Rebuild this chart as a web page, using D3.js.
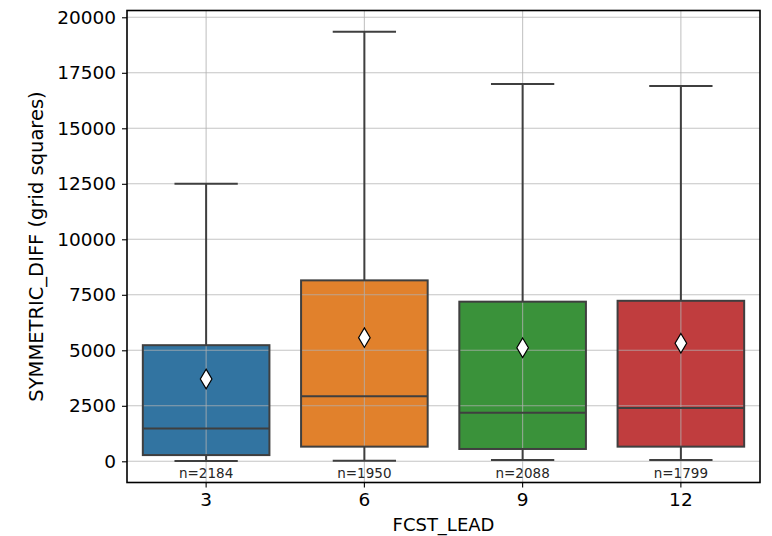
<!DOCTYPE html>
<html>
<head>
<meta charset="utf-8">
<script src="https://cdn.jsdelivr.net/npm/d3@7/dist/d3.min.js"></script>
<style>
  html, body { margin: 0; padding: 0; background: #fff; }
  svg { display: block; font-family: "DejaVu Sans", sans-serif; }
</style>
</head>
<body>
<svg id="chart" width="772" height="536"></svg>
<script>
// Forecast lead times and per-lead box statistics
const leads = ["3", "6", "9", "12"];
const whiskerLow = [10, 25, 55, 55];
const q1 = [280, 660, 555, 660];
const median = [1480, 2930, 2190, 2400];
const q3 = [5230, 8150, 7190, 7230];
const whiskerHigh = [12500, 19350, 17000, 16900];
const means = [3710, 5570, 5115, 5315];
const counts = [2184, 1950, 2088, 1799];
const colors = ["#3274a1", "#e1812c", "#3a923a", "#c03d3e"];
const yTicks = [0, 2500, 5000, 7500, 10000, 12500, 15000, 17500, 20000];

const margin = { left: 127, right: 12, top: 10.5, bottom: 53.5 };
const W = 772, H = 536;
const svg = d3.select("#chart");
const plotW = W - margin.left - margin.right;
const plotH = H - margin.top - margin.bottom;

const x = d3.scaleBand().domain(leads).range([margin.left, margin.left + plotW]).paddingInner(0).paddingOuter(0);
const y = d3.scaleLinear().domain([-955, 20306]).range([margin.top + plotH, margin.top]);

const boxW = x.bandwidth() * 0.8;
const lineCol = "#3f3f3f";
const cxOf = k => x(k) + x.bandwidth() / 2;

const data = leads.map((k, i) => ({
  k, lo: whiskerLow[i], q1: q1[i], med: median[i], q3: q3[i], hi: whiskerHigh[i],
  mean: means[i], n: counts[i], color: colors[i]
}));

// box fills
const fills = svg.append("g");
data.forEach(d => {
  fills.append("rect").attr("x", cxOf(d.k) - boxW / 2).attr("width", boxW)
    .attr("y", y(d.q3)).attr("height", y(d.q1) - y(d.q3))
    .attr("fill", d.color);
});

// grid over the fills
const grid = svg.append("g");
yTicks.forEach(t => {
  grid.append("line").attr("x1", margin.left).attr("x2", margin.left + plotW)
    .attr("y1", y(t)).attr("y2", y(t)).attr("stroke", "#b0b0b0").attr("stroke-opacity", 0.75).attr("stroke-width", 1.1);
});
leads.forEach(k => {
  grid.append("line").attr("x1", cxOf(k)).attr("x2", cxOf(k)).attr("y1", margin.top).attr("y2", margin.top + plotH)
    .attr("stroke", "#b0b0b0").attr("stroke-opacity", 0.75).attr("stroke-width", 1.1);
});

// outlines, whiskers, caps and medians
const g = svg.append("g").attr("stroke", lineCol).attr("stroke-width", 2).attr("fill", "none");
data.forEach(d => {
  const cx = cxOf(d.k);
  g.append("line").attr("x1", cx).attr("x2", cx).attr("y1", y(d.q3)).attr("y2", y(d.hi));
  g.append("line").attr("x1", cx).attr("x2", cx).attr("y1", y(d.q1)).attr("y2", y(d.lo));
  g.append("line").attr("x1", cx - boxW / 4).attr("x2", cx + boxW / 4).attr("y1", y(d.hi)).attr("y2", y(d.hi));
  g.append("line").attr("x1", cx - boxW / 4).attr("x2", cx + boxW / 4).attr("y1", y(d.lo)).attr("y2", y(d.lo));
  g.append("rect").attr("x", cx - boxW / 2).attr("width", boxW)
    .attr("y", y(d.q3)).attr("height", y(d.q1) - y(d.q3));
  g.append("line").attr("x1", cx - boxW / 2).attr("x2", cx + boxW / 2).attr("y1", y(d.med)).attr("y2", y(d.med));
});

// mean markers (thin diamonds)
data.forEach(d => {
  const cx = cxOf(d.k), cy = y(d.mean);
  const hw = 5.8, hh = 9.8;
  svg.append("path")
    .attr("d", `M${cx},${cy - hh}L${cx + hw},${cy}L${cx},${cy + hh}L${cx - hw},${cy}Z`)
    .attr("fill", "#fff").attr("stroke", "#000").attr("stroke-width", 1.2);
});

// sample counts
data.forEach(d => {
  svg.append("text").attr("x", cxOf(d.k)).attr("y", 477.5)
    .attr("text-anchor", "middle").attr("font-size", 13.5).attr("fill", "#262626")
    .text("n=" + d.n);
});

// axes
const yAxis = d3.axisLeft(y).tickValues(yTicks).tickSize(5).tickPadding(6).tickFormat(d3.format("d"));
const yg = svg.append("g").attr("transform", `translate(${margin.left},0)`).call(yAxis);
yg.select(".domain").remove();
yg.selectAll("text").attr("font-size", 18.5).attr("fill", "#000").attr("font-family", "DejaVu Sans");
yg.selectAll("line").attr("stroke", "#000").attr("stroke-width", 1.1);

const xAxis = d3.axisBottom(x).tickSize(5).tickPadding(5);
const xg = svg.append("g").attr("transform", `translate(0,${margin.top + plotH})`).call(xAxis);
xg.select(".domain").remove();
xg.selectAll("text").attr("font-size", 18.5).attr("fill", "#000").attr("font-family", "DejaVu Sans");
xg.selectAll("line").attr("stroke", "#000").attr("stroke-width", 1.1);

// frame
svg.append("rect").attr("x", margin.left).attr("y", margin.top).attr("width", plotW).attr("height", plotH)
  .attr("fill", "none").attr("stroke", "#000").attr("stroke-width", 1.6);

// axis titles
svg.append("text").attr("x", margin.left + plotW / 2).attr("y", 531)
  .attr("text-anchor", "middle").attr("font-size", 18).attr("fill", "#000").text("FCST_LEAD");
svg.append("text").attr("transform", `translate(43,${margin.top + plotH / 2}) rotate(-90)`)
  .attr("text-anchor", "middle").attr("font-size", 19.5).attr("fill", "#000").text("SYMMETRIC_DIFF (grid squares)");
</script>
</body>
</html>
